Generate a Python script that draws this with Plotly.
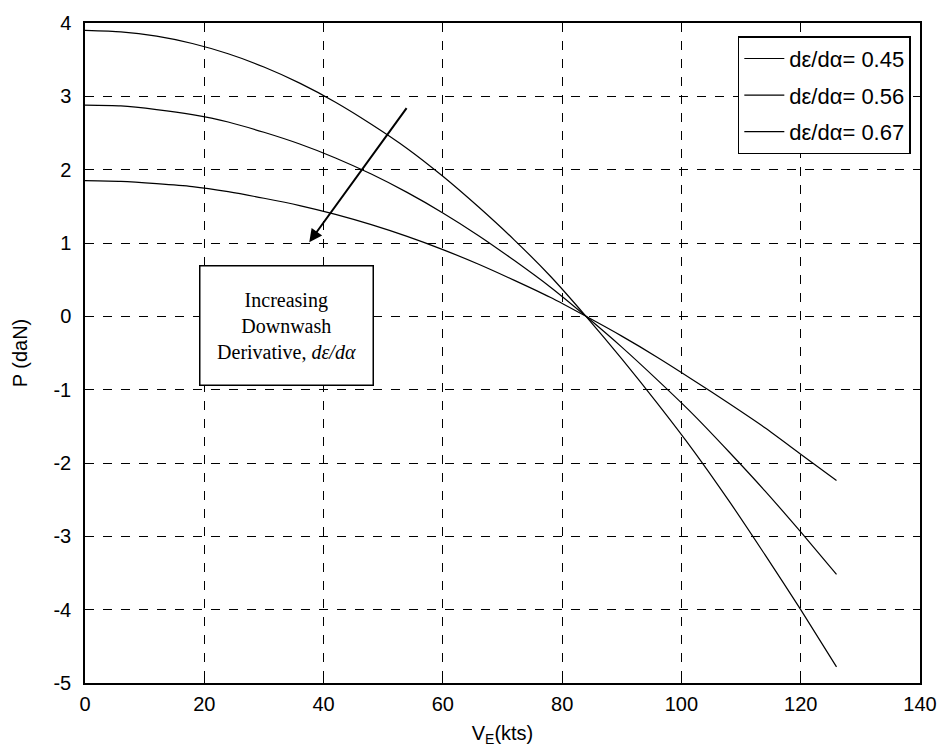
import plotly.graph_objects as go

V = [0, 6, 12, 18, 24, 30, 36, 42, 48, 54, 60, 66, 72, 78, 84, 90, 96, 102, 108, 114, 120, 126]
P_045 = [3.90, 3.88, 3.82, 3.72, 3.58, 3.40, 3.18, 2.92, 2.62, 2.29, 1.91, 1.49, 1.04, 0.55, 0.00,
         -0.58, -1.19, -1.83, -2.52, -3.25, -4.00, -4.78]
P_056 = [2.88, 2.87, 2.82, 2.75, 2.65, 2.51, 2.35, 2.16, 1.94, 1.69, 1.41, 1.10, 0.76, 0.40, 0.00,
         -0.42, -0.87, -1.34, -1.85, -2.38, -2.94, -3.52]
P_067 = [1.85, 1.84, 1.81, 1.77, 1.70, 1.61, 1.51, 1.39, 1.25, 1.09, 0.91, 0.71, 0.49, 0.26, 0.00,
         -0.27, -0.56, -0.87, -1.19, -1.52, -1.88, -2.24]
labels = ["dε/dα= 0.45", "dε/dα= 0.56", "dε/dα= 0.67"]
series = [P_045, P_056, P_067]
x_ticks = [0, 20, 40, 60, 80, 100, 120, 140]
y_ticks = [-5, -4, -3, -2, -1, 0, 1, 2, 3, 4]
y_tick_text = ["-5", "-4", "-3", "-2", "-1", "0", "1", "2", "3", "4"]

FONT = "Liberation Sans, Arial, sans-serif"

fig = go.Figure()
for i, (lab, ys) in enumerate(zip(labels, series)):
    fig.add_trace(go.Scatter(x=V, y=ys, mode="lines", name=lab, legendgroup=f"g{i}",
                             line=dict(color="black", width=1.2, shape="spline", smoothing=0.6)))

axis_common = dict(
    showline=True, linecolor="black", linewidth=1.5, mirror="ticks",
    ticks="inside", ticklen=6, tickcolor="black", tickwidth=1,
    showgrid=True, gridcolor="black", gridwidth=1, griddash="dash",
    zeroline=False, tickfont=dict(family=FONT, size=20, color="black"),
)

fig.update_xaxes(range=[0, 140], tickvals=x_ticks, **axis_common, ticklabelstandoff=2,
                 title=dict(text="V<sub>E</sub>(kts)", font=dict(family=FONT, size=20, color="black"), standoff=12))
fig.update_yaxes(range=[-5, 4], tickvals=y_ticks, ticktext=y_tick_text, **axis_common, ticklabelstandoff=8,
                 title=dict(text="P (daN)", font=dict(family=FONT, size=20, color="black"), standoff=20))

fig.add_annotation(x=33.7, y=-0.13, xref="x", yref="y",
                   text="Increasing<br>Downwash<br>Derivative, <i>dε/dα</i>",
                   showarrow=False, font=dict(family="Liberation Serif, Times New Roman, serif", size=20, color="black"),
                   align="center", bgcolor="white", bordercolor="black", borderwidth=1.5,
                   width=168, height=114, borderpad=2)

fig.add_annotation(x=37.6, y=1.01, ax=54.1, ay=2.86, xref="x", yref="y", axref="x", ayref="y",
                   text="", showarrow=True, arrowhead=2, arrowsize=1.3, arrowwidth=2, arrowcolor="black")

fig.update_layout(
    width=949, height=756,
    margin=dict(l=85, r=25, t=20, b=73),
    paper_bgcolor="white", plot_bgcolor="white",
    showlegend=True,
    legend=dict(x=0.989, y=0.98, xanchor="right", yanchor="top",
                bgcolor="white", bordercolor="black", borderwidth=1.5,
                font=dict(family=FONT, size=22, color="black"),
                traceorder="grouped", tracegroupgap=5, itemwidth=40),
)

fig.write_html("out.html")
